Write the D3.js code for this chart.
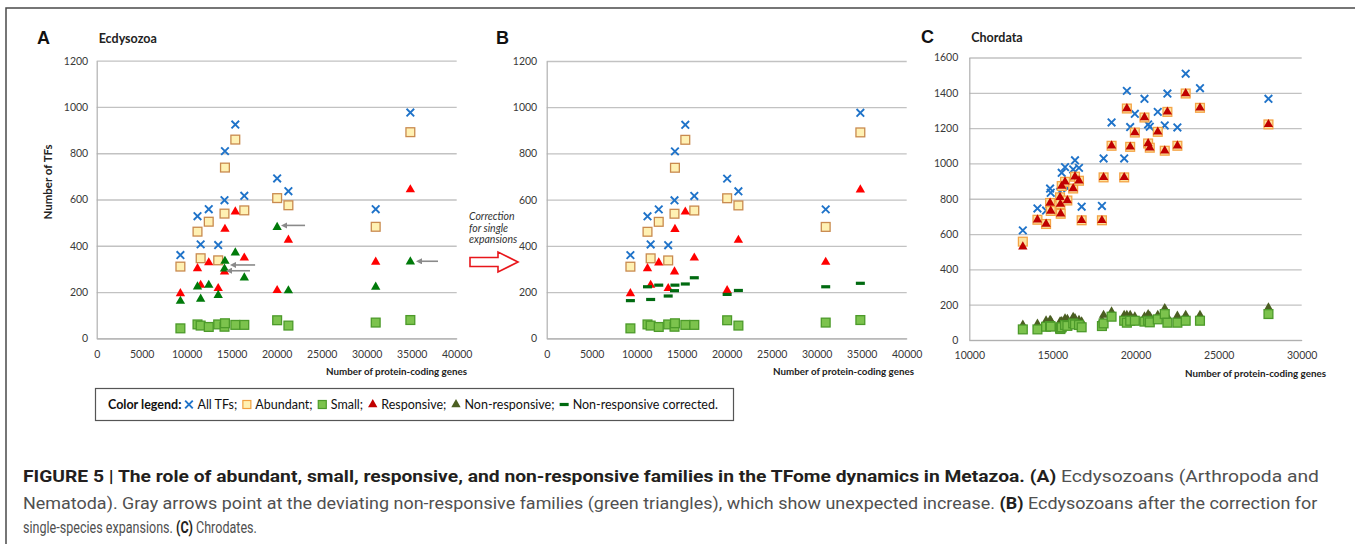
<!DOCTYPE html>
<html>
<head>
<meta charset="utf-8">
<script src="https://cdn.jsdelivr.net/npm/d3@7.9.0/dist/d3.min.js"></script>
<style>
  body { margin: 0; background: #fff; }
  svg { display: block; }
</style>
</head>
<body>
<div id="chart"></div>
<script>
// ---- data: Ecdysozoa (panels A and B) ----
const ecdGenes       = [9300, 11200, 11550, 12450, 13500, 14200, 14250, 15400, 16400, 20050, 21300, 31000, 34850];
const ecdAll         = [360, 528, 406, 558, 403, 597, 809, 924, 616, 691, 636, 558, 976];
const ecdAbundant    = [310, 461, 346, 504, 337, 539, 738, 859, 553, 606, 575, 482, 891];
const ecdSmall       = [43, 60, 55, 49, 60, 50, 65, 58, 58, 78, 55, 68, 79];
const ecdResponsive  = [194, 302, 230, 327, 216, 288, 472, 547, 348, 207, 425, 330, 643];
const ecdNonResp     = [161, 223, 170, 230, 186, 300, 334, 370, 262, 480, 206, 222, 331];
const ecdNonRespCorr = [163, 223, 168, 230, 183, 206, 230, 235, 262, 190, 207, 223, 238];

// gray arrows in A (from x1 to tip x2, at level y)
const arrowsA = [
  { x1: 23150, x2: 21050, y: 488 },
  { x1: 17600, x2: 15370, y: 317 },
  { x1: 17030, x2: 14920, y: 292 },
  { x1: 37920, x2: 36030, y: 333 }
];

// ---- data: Chordata (panel C) ----
const chordGenes      = [13220, 14100, 14620, 14860, 14900, 15460, 15480, 15500, 15560, 15760, 15900, 16250, 16360, 16600, 16760, 17980,
                         18080, 18560, 19320, 19480, 19680, 19960, 20540, 20760, 20860, 21340, 21760, 21920, 22520, 23020, 23880, 28000];
const chordAll        = [621, 745, 733, 858, 834, 839, 800, 780, 947, 979, 860, 966, 1018, 975, 755, 759,
                         1028, 1232, 1028, 1411, 1206, 1281, 1366, 1221, 1208, 1292, 1215, 1396, 1204, 1508, 1426, 1366];
const chordAbundant   = [557, 681, 657, 776, 731, 808, 770, 715, 872, 896, 790, 858, 925, 902, 678, 678,
                         921, 1100, 921, 1311, 1094, 1175, 1260, 1113, 1089, 1179, 1072, 1292, 1100, 1396, 1315, 1221];
const chordResponsive = [528, 681, 657, 776, 731, 808, 770, 715, 872, 896, 790, 858, 925, 902, 678, 678,
                         921, 1100, 921, 1311, 1094, 1175, 1260, 1113, 1089, 1179, 1072, 1292, 1100, 1396, 1315, 1221];
const chordSmall      = [60, 60, 75, 79, 76, 66, 62, 70, 72, 85, 80, 94, 88, 85, 72, 79,
                         94, 132, 109, 98, 109, 109, 104, 109, 100, 117, 147, 98, 98, 109, 109, 147];
const chordNonResp    = [85, 91, 109, 113, 110, 104, 98, 100, 106, 121, 118, 130, 122, 113, 104, 113,
                         141, 160, 141, 141, 141, 132, 132, 145, 135, 141, 179, 132, 136, 141, 141, 183];

// ---- ticks ----
const ecdXTicks = [0, 5000, 10000, 15000, 20000, 25000, 30000, 35000, 40000];
const ecdYTicks = [0, 200, 400, 600, 800, 1000, 1200];
const chordXTicks = [10000, 15000, 20000, 25000, 30000];
const chordYTicks = [0, 200, 400, 600, 800, 1000, 1200, 1400, 1600];

const legendItems = [
  { key: 'all', label: 'All TFs;' },
  { key: 'abundant', label: 'Abundant;' },
  { key: 'small', label: 'Small;' },
  { key: 'resp', label: 'Responsive;' },
  { key: 'nonresp', label: 'Non-responsive;' },
  { key: 'corr', label: 'Non-responsive corrected.' }
];

const captionLines = [
  [["FIGURE 5 | The role of abundant, small, responsive, and non-responsive families in the TFome dynamics in Metazoa. (A)", true], [" Ecdysozoans (Arthropoda and", false]],
  [["Nematoda). Gray arrows point at the deviating non-responsive families (green triangles), which show unexpected increase. ", false], ["(B)", true], [" Ecdysozoans after the correction for", false]],
  [["single-species expansions. ", false], ["(C)", true], [" Chrodates.", false]]
];

const W = 1355, H = 544;
const tickFont = 'Lato, "DejaVu Sans", sans-serif';

const svg = d3.select('#chart').append('svg')
  .attr('width', W).attr('height', H)
  .attr('viewBox', `0 0 ${W} ${H}`);

svg.append('rect').attr('width', W).attr('height', H).attr('fill', '#fff');

// figure frame
svg.append('path')
  .attr('d', `M6,${H}V8H${W}`)
  .attr('fill', 'none').attr('stroke', '#4a4a4a').attr('stroke-width', 1.5);

const blue = '#1f73c9';

// marker drawing helpers
function drawX(g, pts, color) {
  g.selectAll(null).data(pts).join('path')
    .attr('transform', d => `translate(${d[0]},${d[1]})`)
    .attr('d', 'M-3.8,-3.8L3.8,3.8M-3.8,3.8L3.8,-3.8')
    .attr('stroke', color).attr('stroke-width', 1.9).attr('fill', 'none');
}
function drawSquares(g, pts, fill, stroke) {
  g.selectAll(null).data(pts).join('rect')
    .attr('x', d => d[0] - 4.4).attr('y', d => d[1] - 4.4)
    .attr('width', 8.8).attr('height', 8.8)
    .attr('fill', fill).attr('stroke', stroke).attr('stroke-width', 1.3);
}
const triPath = d3.symbol(d3.symbolTriangle, 38)();
function drawTriangles(g, pts, color) {
  g.selectAll(null).data(pts).join('path')
    .attr('transform', d => `translate(${d[0]},${d[1]})`)
    .attr('d', triPath).attr('fill', color);
}
function drawDashes(g, pts, color) {
  g.selectAll(null).data(pts).join('rect')
    .attr('x', d => d[0] - 4.5).attr('y', d => d[1] - 1.6)
    .attr('width', 9).attr('height', 3.2).attr('fill', color);
}

function setupPanel(cfg) {
  const x = d3.scaleLinear().domain(cfg.xDomain).range([cfg.left, cfg.right]);
  const y = d3.scaleLinear().domain(cfg.yDomain).range([cfg.bottom, cfg.top]);
  const g = svg.append('g');

  // gridlines
  g.append('g')
    .attr('transform', `translate(${cfg.left},0)`)
    .call(d3.axisLeft(y).tickValues(cfg.yTicks).tickFormat('').tickSize(-(cfg.right - cfg.left)))
    .call(a => a.select('.domain').remove())
    .call(a => a.selectAll('line').attr('stroke', '#c2c2c2').attr('stroke-width', 1.3));

  // y axis
  g.append('g')
    .attr('transform', `translate(${cfg.left},0)`)
    .call(d3.axisLeft(y).tickValues(cfg.yTicks).tickSize(0).tickPadding(cfg.yPad).tickFormat(d3.format('d')))
    .call(a => a.select('.domain').attr('stroke', '#b0b0b0').attr('stroke-width', 1.2))
    .call(a => a.selectAll('text').attr('font-family', tickFont).attr('font-size', 10.5).attr('fill', '#3a3a3a'));

  // x axis
  g.append('g')
    .attr('transform', `translate(0,${cfg.bottom})`)
    .call(d3.axisBottom(x).tickValues(cfg.xTicks).tickSize(0).tickPadding(12).tickFormat(d3.format('d')))
    .call(a => a.select('.domain').attr('stroke', '#b0b0b0').attr('stroke-width', 1.2))
    .call(a => a.selectAll('text').attr('font-family', tickFont).attr('font-size', 10.5).attr('fill', '#3a3a3a'));

  // x title
  g.append('text')
    .attr('x', cfg.xTitleX).attr('y', cfg.bottom + 37)
    .attr('text-anchor', 'end')
    .attr('font-family', tickFont).attr('font-weight', 700).attr('font-size', 9.8).attr('fill', '#222')
    .text('Number of protein-coding genes');

  // panel letter
  g.append('text')
    .attr('x', cfg.letterX).attr('y', cfg.letterY)
    .attr('font-family', 'Liberation Sans, Arial, sans-serif').attr('font-weight', 700).attr('font-size', 18).attr('fill', '#111')
    .text(cfg.letter);

  if (cfg.title) {
    g.append('text')
      .attr('x', cfg.left + 2).attr('y', cfg.letterY - 1)
      .attr('font-family', tickFont).attr('font-weight', 700).attr('font-size', 12.5).attr('fill', '#222')
      .text(cfg.title);
  }
  return { x, y, g };
}

const zip = (xs, ys) => xs.map((v, i) => [v, ys[i]]);

// ---- Panel A ----
{
  const { x, y, g } = setupPanel({
    left: 96.7, right: 456.7, top: 60.7, bottom: 338.3,
    xDomain: [0, 40000], yDomain: [0, 1200], xTicks: ecdXTicks, yTicks: ecdYTicks,
    yPad: 8.5, xTitleX: 467, letter: 'A', letterX: 37, letterY: 44, title: 'Ecdysozoa'
  });
  const P = (ys) => zip(ecdGenes, ys).map(d => [x(d[0]), y(d[1])]);
  const m = g.append('g');
  drawX(m, P(ecdAll), blue);
  drawSquares(m, P(ecdAbundant), '#fff1b3', '#c98a4e');
  drawTriangles(m, P(ecdResponsive), '#ff0000');
  drawSquares(m, P(ecdSmall), '#7cc34d', '#4c9a2a');
  drawTriangles(m, P(ecdNonResp), '#007a0a');

  // gray arrows
  const defs = svg.append('defs');
  defs.append('marker').attr('id', 'grayHead')
    .attr('viewBox', '0 0 10 10').attr('refX', 2).attr('refY', 5)
    .attr('markerWidth', 4).attr('markerHeight', 4).attr('orient', 'auto')
    .append('path').attr('d', 'M0,0L10,5L0,10z').attr('fill', '#8a8a8a');
  g.selectAll(null).data(arrowsA).join('line')
    .attr('x1', d => x(d.x1)).attr('x2', d => x(d.x2))
    .attr('y1', d => y(d.y)).attr('y2', d => y(d.y))
    .attr('stroke', '#8a8a8a').attr('stroke-width', 1.6)
    .attr('marker-end', 'url(#grayHead)');

  // y title
  g.append('text')
    .attr('transform', 'translate(52,182) rotate(-90)')
    .attr('text-anchor', 'middle')
    .attr('font-family', tickFont).attr('font-weight', 700).attr('font-size', 11.5).attr('fill', '#222')
    .text('Number of TFs');
}

// ---- Panel B ----
{
  const { x, y, g } = setupPanel({
    left: 546.7, right: 906.7, top: 61, bottom: 338.3,
    xDomain: [0, 40000], yDomain: [0, 1200], xTicks: ecdXTicks, yTicks: ecdYTicks,
    yPad: 9.5, xTitleX: 914, letter: 'B', letterX: 496, letterY: 44
  });
  const P = (ys) => zip(ecdGenes, ys).map(d => [x(d[0]), y(d[1])]);
  const m = g.append('g');
  drawX(m, P(ecdAll), blue);
  drawSquares(m, P(ecdAbundant), '#fff1b3', '#c98a4e');
  drawTriangles(m, P(ecdResponsive), '#ff0000');
  drawSquares(m, P(ecdSmall), '#7cc34d', '#4c9a2a');
  drawDashes(m, P(ecdNonRespCorr), '#006a10');

  // correction note and red outlined arrow
  const note = g.append('text')
    .attr('font-family', tickFont).attr('font-style', 'italic').attr('font-size', 10.5).attr('fill', '#333');
  ['Correction', 'for single', 'expansions'].forEach((t, i) => {
    note.append('tspan').attr('x', 469).attr('y', 220 + i * 11.7).text(t);
  });
  const ay = 262, ax0 = 470, ax1 = 518;
  g.append('path')
    .attr('d', `M${ax0},${ay - 4.5}H${ax1 - 20}V${ay - 10}L${ax1},${ay}L${ax1 - 20},${ay + 10}V${ay + 4.5}H${ax0}Z`)
    .attr('fill', '#fff').attr('stroke', '#e8161b').attr('stroke-width', 1.6);
}

// ---- Panel C ----
{
  const { x, y, g } = setupPanel({
    left: 969.3, right: 1301.7, top: 57.5, bottom: 340,
    xDomain: [10000, 30000], yDomain: [0, 1600], xTicks: chordXTicks, yTicks: chordYTicks,
    yPad: 11, xTitleX: 1326, letter: 'C', letterX: 921, letterY: 43, title: 'Chordata'
  });
  const P = (ys) => zip(chordGenes, ys).map(d => [x(d[0]), y(d[1])]);
  const m = g.append('g');
  drawX(m, P(chordAll), blue);
  drawTriangles(m, P(chordNonResp), '#4b5f22');
  drawSquares(m, P(chordSmall), '#7cc34d', '#4c9a2a');
  drawSquares(m, P(chordAbundant), '#fde3a0', '#f4a446');
  drawTriangles(m, P(chordResponsive), '#c00000');
}

// ---- legend ----
{
  const g = svg.append('g');
  g.append('rect').attr('x', 95.5).attr('y', 388.5).attr('width', 638).attr('height', 32)
    .attr('fill', '#fff').attr('stroke', '#555').attr('stroke-width', 1.2);
  const ly = 409, lx0 = 108, lxEnd = 720;
  const head = g.append('text').attr('x', lx0).attr('y', ly)
    .attr('font-family', tickFont).attr('font-weight', 700).attr('font-size', 12.5).attr('fill', '#111')
    .text('Color legend:');
  // first pass: measure labels
  const labels = legendItems.map(it => {
    const t = g.append('text').attr('y', ly)
      .attr('font-family', tickFont).attr('font-size', 12.5).attr('fill', '#111')
      .text(it.label);
    return { it, t, w: t.node().getComputedTextLength() };
  });
  const headW = head.node().getComputedTextLength();
  const symW = 13;
  const natural = headW + labels.reduce((s, l) => s + symW + l.w, 0);
  const gap = (lxEnd - lx0 - natural) / labels.length;
  let cx = lx0 + headW + gap * 0.6;
  labels.forEach(({ it, t, w }) => {
    const sx = cx + 4.5, sy = ly - 4.5;
    if (it.key === 'all') drawX(g, [[sx, sy]], blue);
    if (it.key === 'abundant') g.append('rect').attr('x', sx - 4).attr('y', sy - 4).attr('width', 8).attr('height', 8).attr('fill', '#fff1b3').attr('stroke', '#f0a040').attr('stroke-width', 1.2);
    if (it.key === 'small') g.append('rect').attr('x', sx - 4).attr('y', sy - 4).attr('width', 8).attr('height', 8).attr('fill', '#7cc34d').attr('stroke', '#4c9a2a').attr('stroke-width', 1.2);
    if (it.key === 'resp') drawTriangles(g, [[sx, sy]], '#c00000');
    if (it.key === 'nonresp') drawTriangles(g, [[sx, sy]], '#4b5f22');
    if (it.key === 'corr') drawDashes(g, [[sx, sy]], '#006a10');
    t.attr('x', cx + symW);
    cx = cx + symW + w + gap;
  });
}

// ---- caption ----
{
  const targets = [1297, 1295, 234];
  const baselines = [482, 508.5, 533];
  captionLines.forEach((segs, i) => {
    const t = svg.append('text')
      .attr('font-family', 'Roboto, "Liberation Sans", sans-serif')
      .attr('font-size', 16.5);
    segs.forEach(([s, b]) => {
      t.append('tspan').attr('font-weight', b ? 700 : 400).attr('fill', b ? '#231f20' : '#505050').text(s);
    });
    const w = t.node().getComputedTextLength();
    t.attr('transform', `translate(23,${baselines[i]}) scale(${targets[i] / w},1)`);
  });
}
</script>
</body>
</html>
